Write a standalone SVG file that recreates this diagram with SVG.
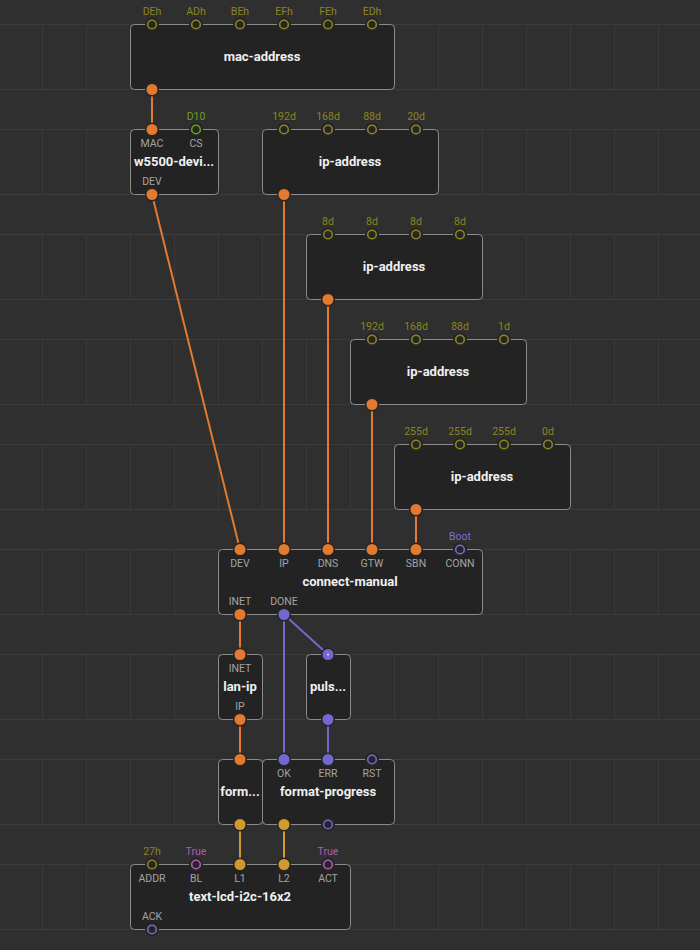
<svg xmlns="http://www.w3.org/2000/svg" width="700" height="950" viewBox="0 0 700 950">
<style>
.bg{fill:#2f2f2f}
.gh{stroke:#3c3c3c;stroke-width:1}
.gv{stroke:#3a3a3a;stroke-width:1}
.node{fill:#1e1e1e;fill-opacity:0.72;stroke:#8c8c8c;stroke-width:1}
.halo{fill:#262626}
.title{font-family:Roboto,"Liberation Sans",sans-serif;font-size:13px;font-weight:bold;fill:#f0f0f0;text-anchor:middle}
.lbl{font-family:Roboto,"Liberation Sans",sans-serif;font-size:10.5px;fill:#a3a3a3;text-anchor:middle}
.val{font-family:Roboto,"Liberation Sans",sans-serif;font-size:10.5px;text-anchor:middle}
.vo{fill:#8c8420}.vg{fill:#6e9e1c}.vp{fill:#7a70d4}.vk{fill:#b25ab2}
.po{fill:#e27a30}
.pu{fill:#7268cf}
.pg{fill:#d09b2e}
.ho{fill:none;stroke:#8c8420;stroke-width:1.6}
.hg{fill:none;stroke:#6e9e1c;stroke-width:1.6}
.hp{fill:none;stroke:#7268cf;stroke-width:1.6}
.hk{fill:none;stroke:#b25ab2;stroke-width:1.6}
.lo{stroke:#e27a30;stroke-width:2;fill:none}
.lu{stroke:#7268cf;stroke-width:2;fill:none}
.lg{stroke:#d09b2e;stroke-width:2;fill:none}
</style>
<rect class="bg" x="0" y="0" width="700" height="950"/>
<g id="grid">
<g class="gh">
<line x1="0" y1="24.5" x2="700" y2="24.5"/><line x1="0" y1="89.5" x2="700" y2="89.5"/>
<line x1="0" y1="129.5" x2="700" y2="129.5"/><line x1="0" y1="194.5" x2="700" y2="194.5"/>
<line x1="0" y1="234.5" x2="700" y2="234.5"/><line x1="0" y1="299.5" x2="700" y2="299.5"/>
<line x1="0" y1="339.5" x2="700" y2="339.5"/><line x1="0" y1="404.5" x2="700" y2="404.5"/>
<line x1="0" y1="444.5" x2="700" y2="444.5"/><line x1="0" y1="509.5" x2="700" y2="509.5"/>
<line x1="0" y1="549.5" x2="700" y2="549.5"/><line x1="0" y1="614.5" x2="700" y2="614.5"/>
<line x1="0" y1="654.5" x2="700" y2="654.5"/><line x1="0" y1="719.5" x2="700" y2="719.5"/>
<line x1="0" y1="759.5" x2="700" y2="759.5"/><line x1="0" y1="824.5" x2="700" y2="824.5"/>
<line x1="0" y1="864.5" x2="700" y2="864.5"/><line x1="0" y1="929.5" x2="700" y2="929.5"/>
</g>
<path class="gv" d="M42.5 24.5V89.5M86.5 24.5V89.5M130.5 24.5V89.5M174.5 24.5V89.5M218.5 24.5V89.5M262.5 24.5V89.5M306.5 24.5V89.5M350.5 24.5V89.5M394.5 24.5V89.5M438.5 24.5V89.5M482.5 24.5V89.5M526.5 24.5V89.5M570.5 24.5V89.5M614.5 24.5V89.5M658.5 24.5V89.5
M42.5 129.5V194.5M86.5 129.5V194.5M130.5 129.5V194.5M174.5 129.5V194.5M218.5 129.5V194.5M262.5 129.5V194.5M306.5 129.5V194.5M350.5 129.5V194.5M394.5 129.5V194.5M438.5 129.5V194.5M482.5 129.5V194.5M526.5 129.5V194.5M570.5 129.5V194.5M614.5 129.5V194.5M658.5 129.5V194.5
M42.5 234.5V299.5M86.5 234.5V299.5M130.5 234.5V299.5M174.5 234.5V299.5M218.5 234.5V299.5M262.5 234.5V299.5M306.5 234.5V299.5M350.5 234.5V299.5M394.5 234.5V299.5M438.5 234.5V299.5M482.5 234.5V299.5M526.5 234.5V299.5M570.5 234.5V299.5M614.5 234.5V299.5M658.5 234.5V299.5
M42.5 339.5V404.5M86.5 339.5V404.5M130.5 339.5V404.5M174.5 339.5V404.5M218.5 339.5V404.5M262.5 339.5V404.5M306.5 339.5V404.5M350.5 339.5V404.5M394.5 339.5V404.5M438.5 339.5V404.5M482.5 339.5V404.5M526.5 339.5V404.5M570.5 339.5V404.5M614.5 339.5V404.5M658.5 339.5V404.5
M42.5 444.5V509.5M86.5 444.5V509.5M130.5 444.5V509.5M174.5 444.5V509.5M218.5 444.5V509.5M262.5 444.5V509.5M306.5 444.5V509.5M350.5 444.5V509.5M394.5 444.5V509.5M438.5 444.5V509.5M482.5 444.5V509.5M526.5 444.5V509.5M570.5 444.5V509.5M614.5 444.5V509.5M658.5 444.5V509.5
M42.5 549.5V614.5M86.5 549.5V614.5M130.5 549.5V614.5M174.5 549.5V614.5M218.5 549.5V614.5M262.5 549.5V614.5M306.5 549.5V614.5M350.5 549.5V614.5M394.5 549.5V614.5M438.5 549.5V614.5M482.5 549.5V614.5M526.5 549.5V614.5M570.5 549.5V614.5M614.5 549.5V614.5M658.5 549.5V614.5
M42.5 654.5V719.5M86.5 654.5V719.5M130.5 654.5V719.5M174.5 654.5V719.5M218.5 654.5V719.5M262.5 654.5V719.5M306.5 654.5V719.5M350.5 654.5V719.5M394.5 654.5V719.5M438.5 654.5V719.5M482.5 654.5V719.5M526.5 654.5V719.5M570.5 654.5V719.5M614.5 654.5V719.5M658.5 654.5V719.5
M42.5 759.5V824.5M86.5 759.5V824.5M130.5 759.5V824.5M174.5 759.5V824.5M218.5 759.5V824.5M262.5 759.5V824.5M306.5 759.5V824.5M350.5 759.5V824.5M394.5 759.5V824.5M438.5 759.5V824.5M482.5 759.5V824.5M526.5 759.5V824.5M570.5 759.5V824.5M614.5 759.5V824.5M658.5 759.5V824.5
M42.5 864.5V929.5M86.5 864.5V929.5M130.5 864.5V929.5M174.5 864.5V929.5M218.5 864.5V929.5M262.5 864.5V929.5M306.5 864.5V929.5M350.5 864.5V929.5M394.5 864.5V929.5M438.5 864.5V929.5M482.5 864.5V929.5M526.5 864.5V929.5M570.5 864.5V929.5M614.5 864.5V929.5M658.5 864.5V929.5"/>
</g>

<g id="links">
<line class="lo" x1="152" y1="89.5" x2="152" y2="129.5"/>
<line class="lo" x1="152" y1="194.5" x2="240" y2="549.5"/>
<line class="lo" x1="284" y1="194.5" x2="284" y2="549.5"/>
<line class="lo" x1="328" y1="299.5" x2="328" y2="549.5"/>
<line class="lo" x1="372" y1="404.5" x2="372" y2="549.5"/>
<line class="lo" x1="416" y1="509.5" x2="416" y2="549.5"/>
<line class="lo" x1="240" y1="614.5" x2="240" y2="654.5"/>
<line class="lu" x1="284" y1="614.5" x2="328" y2="654.5"/>
<line class="lu" x1="284" y1="614.5" x2="284" y2="759.5"/>
<line class="lo" x1="240" y1="719.5" x2="240" y2="759.5"/>
<line class="lu" x1="328" y1="719.5" x2="328" y2="759.5"/>
<line class="lg" x1="240" y1="824.5" x2="240" y2="864.5"/>
<line class="lg" x1="284" y1="824.5" x2="284" y2="864.5"/>
</g>

<g id="mac-address">
<rect class="node" x="130.5" y="24.5" width="264" height="65" rx="4"/>
<text class="title" x="262" y="61">mac-address</text>
<g class="halo"><circle cx="152" cy="24.5" r="7"/><circle cx="196" cy="24.5" r="7"/><circle cx="240" cy="24.5" r="7"/><circle cx="284" cy="24.5" r="7"/><circle cx="328" cy="24.5" r="7"/><circle cx="372" cy="24.5" r="7"/><circle cx="152" cy="89.5" r="7"/></g>
<g class="ho"><circle cx="152" cy="24.5" r="4.3"/><circle cx="196" cy="24.5" r="4.3"/><circle cx="240" cy="24.5" r="4.3"/><circle cx="284" cy="24.5" r="4.3"/><circle cx="328" cy="24.5" r="4.3"/><circle cx="372" cy="24.5" r="4.3"/></g>
<circle class="po" cx="152" cy="89.5" r="5.5"/>
<g class="val vo"><text x="152" y="15">DEh</text><text x="196" y="15">ADh</text><text x="240" y="15">BEh</text><text x="284" y="15">EFh</text><text x="328" y="15">FEh</text><text x="372" y="15">EDh</text></g>
</g>

<g id="w5500-device">
<rect class="node" x="130.5" y="129.5" width="88" height="65" rx="4"/>
<text class="title" x="174" y="166">w5500-devi...</text>
<text class="lbl" x="152" y="147">MAC</text><text class="lbl" x="196" y="147">CS</text><text class="lbl" x="152" y="185">DEV</text>
<g class="halo"><circle cx="152" cy="129.5" r="7"/><circle cx="196" cy="129.5" r="7"/><circle cx="152" cy="194.5" r="7"/></g>
<circle class="po" cx="152" cy="129.5" r="5.5"/>
<circle class="hg" cx="196" cy="129.5" r="4.3"/>
<circle class="po" cx="152" cy="194.5" r="5.5"/>
<text class="val vg" x="196" y="120">D10</text>
</g>

<g id="ip-address-1">
<rect class="node" x="262.5" y="129.5" width="176" height="65" rx="4"/>
<text class="title" x="350" y="166">ip-address</text>
<g class="halo"><circle cx="284" cy="129.5" r="7"/><circle cx="328" cy="129.5" r="7"/><circle cx="372" cy="129.5" r="7"/><circle cx="416" cy="129.5" r="7"/><circle cx="284" cy="194.5" r="7"/></g>
<g class="ho"><circle cx="284" cy="129.5" r="4.3"/><circle cx="328" cy="129.5" r="4.3"/><circle cx="372" cy="129.5" r="4.3"/><circle cx="416" cy="129.5" r="4.3"/></g>
<circle class="po" cx="284" cy="194.5" r="5.5"/>
<g class="val vo"><text x="284" y="120">192d</text><text x="328" y="120">168d</text><text x="372" y="120">88d</text><text x="416" y="120">20d</text></g>
</g>

<g id="ip-address-2">
<rect class="node" x="306.5" y="234.5" width="176" height="65" rx="4"/>
<text class="title" x="394" y="271">ip-address</text>
<g class="halo"><circle cx="328" cy="234.5" r="7"/><circle cx="372" cy="234.5" r="7"/><circle cx="416" cy="234.5" r="7"/><circle cx="460" cy="234.5" r="7"/><circle cx="328" cy="299.5" r="7"/></g>
<g class="ho"><circle cx="328" cy="234.5" r="4.3"/><circle cx="372" cy="234.5" r="4.3"/><circle cx="416" cy="234.5" r="4.3"/><circle cx="460" cy="234.5" r="4.3"/></g>
<circle class="po" cx="328" cy="299.5" r="5.5"/>
<g class="val vo"><text x="328" y="225">8d</text><text x="372" y="225">8d</text><text x="416" y="225">8d</text><text x="460" y="225">8d</text></g>
</g>

<g id="ip-address-3">
<rect class="node" x="350.5" y="339.5" width="176" height="65" rx="4"/>
<text class="title" x="438" y="376">ip-address</text>
<g class="halo"><circle cx="372" cy="339.5" r="7"/><circle cx="416" cy="339.5" r="7"/><circle cx="460" cy="339.5" r="7"/><circle cx="504" cy="339.5" r="7"/><circle cx="372" cy="404.5" r="7"/></g>
<g class="ho"><circle cx="372" cy="339.5" r="4.3"/><circle cx="416" cy="339.5" r="4.3"/><circle cx="460" cy="339.5" r="4.3"/><circle cx="504" cy="339.5" r="4.3"/></g>
<circle class="po" cx="372" cy="404.5" r="5.5"/>
<g class="val vo"><text x="372" y="330">192d</text><text x="416" y="330">168d</text><text x="460" y="330">88d</text><text x="504" y="330">1d</text></g>
</g>

<g id="ip-address-4">
<rect class="node" x="394.5" y="444.5" width="176" height="65" rx="4"/>
<text class="title" x="482" y="481">ip-address</text>
<g class="halo"><circle cx="416" cy="444.5" r="7"/><circle cx="460" cy="444.5" r="7"/><circle cx="504" cy="444.5" r="7"/><circle cx="548" cy="444.5" r="7"/><circle cx="416" cy="509.5" r="7"/></g>
<g class="ho"><circle cx="416" cy="444.5" r="4.3"/><circle cx="460" cy="444.5" r="4.3"/><circle cx="504" cy="444.5" r="4.3"/><circle cx="548" cy="444.5" r="4.3"/></g>
<circle class="po" cx="416" cy="509.5" r="5.5"/>
<g class="val vo"><text x="416" y="435">255d</text><text x="460" y="435">255d</text><text x="504" y="435">255d</text><text x="548" y="435">0d</text></g>
</g>

<g id="connect-manual">
<rect class="node" x="218.5" y="549.5" width="264" height="65" rx="4"/>
<text class="title" x="350" y="586">connect-manual</text>
<text class="lbl" x="240" y="567">DEV</text><text class="lbl" x="284" y="567">IP</text><text class="lbl" x="328" y="567">DNS</text><text class="lbl" x="372" y="567">GTW</text><text class="lbl" x="416" y="567">SBN</text><text class="lbl" x="460" y="567">CONN</text>
<text class="lbl" x="240" y="605">INET</text><text class="lbl" x="284" y="605">DONE</text>
<g class="halo"><circle cx="240" cy="549.5" r="7"/><circle cx="284" cy="549.5" r="7"/><circle cx="328" cy="549.5" r="7"/><circle cx="372" cy="549.5" r="7"/><circle cx="416" cy="549.5" r="7"/><circle cx="460" cy="549.5" r="7"/><circle cx="240" cy="614.5" r="7"/><circle cx="284" cy="614.5" r="7"/></g>
<g class="po"><circle cx="240" cy="549.5" r="5.5"/><circle cx="284" cy="549.5" r="5.5"/><circle cx="328" cy="549.5" r="5.5"/><circle cx="372" cy="549.5" r="5.5"/><circle cx="416" cy="549.5" r="5.5"/><circle cx="240" cy="614.5" r="5.5"/></g>
<circle class="hp" cx="460" cy="549.5" r="4.3"/>
<circle class="pu" cx="284" cy="614.5" r="5.5"/>
<text class="val vp" x="460" y="540">Boot</text>
</g>

<g id="lan-ip">
<rect class="node" x="218.5" y="654.5" width="44" height="65" rx="4"/>
<text class="title" x="240" y="691">lan-ip</text>
<text class="lbl" x="240" y="672">INET</text><text class="lbl" x="240" y="710">IP</text>
<g class="halo"><circle cx="240" cy="654.5" r="7"/><circle cx="240" cy="719.5" r="7"/></g>
<g class="po"><circle cx="240" cy="654.5" r="5.5"/><circle cx="240" cy="719.5" r="5.5"/></g>
</g>

<g id="pulse">
<rect class="node" x="306.5" y="654.5" width="44" height="65" rx="4"/>
<text class="title" x="328" y="691">puls...</text>
<g class="halo"><circle cx="328" cy="654.5" r="7"/><circle cx="328" cy="719.5" r="7"/></g>
<g class="pu"><circle cx="328" cy="654.5" r="5.5"/><circle cx="328" cy="719.5" r="5.5"/></g>
<circle cx="328" cy="654.5" r="1.1" fill="#d8d8f0"/>
</g>

<g id="format">
<rect class="node" x="218.5" y="759.5" width="44" height="65" rx="4"/>
<text class="title" x="240" y="796">form...</text>
<g class="halo"><circle cx="240" cy="759.5" r="7"/><circle cx="240" cy="824.5" r="7"/></g>
<circle class="po" cx="240" cy="759.5" r="5.5"/>
<circle class="pg" cx="240" cy="824.5" r="5.5"/>
</g>

<g id="format-progress">
<rect class="node" x="262.5" y="759.5" width="132" height="65" rx="4"/>
<text class="title" x="328" y="796">format-progress</text>
<text class="lbl" x="284" y="777">OK</text><text class="lbl" x="328" y="777">ERR</text><text class="lbl" x="372" y="777">RST</text>
<g class="halo"><circle cx="284" cy="759.5" r="7"/><circle cx="328" cy="759.5" r="7"/><circle cx="372" cy="759.5" r="7"/><circle cx="284" cy="824.5" r="7"/><circle cx="328" cy="824.5" r="7"/></g>
<g class="pu"><circle cx="284" cy="759.5" r="5.5"/><circle cx="328" cy="759.5" r="5.5"/></g>
<circle class="hp" cx="372" cy="759.5" r="4.3"/>
<circle class="pg" cx="284" cy="824.5" r="5.5"/>
<circle class="hp" cx="328" cy="824.5" r="4.3"/>
</g>

<g id="text-lcd-i2c-16x2">
<rect class="node" x="130.5" y="864.5" width="220" height="65" rx="4"/>
<text class="title" x="240" y="901">text-lcd-i2c-16x2</text>
<text class="lbl" x="152" y="882">ADDR</text><text class="lbl" x="196" y="882">BL</text><text class="lbl" x="240" y="882">L1</text><text class="lbl" x="284" y="882">L2</text><text class="lbl" x="328" y="882">ACT</text>
<text class="lbl" x="152" y="920">ACK</text>
<g class="halo"><circle cx="152" cy="864.5" r="7"/><circle cx="196" cy="864.5" r="7"/><circle cx="240" cy="864.5" r="7"/><circle cx="284" cy="864.5" r="7"/><circle cx="328" cy="864.5" r="7"/><circle cx="152" cy="929.5" r="7"/></g>
<circle class="ho" cx="152" cy="864.5" r="4.3"/>
<circle class="hk" cx="196" cy="864.5" r="4.3"/>
<g class="pg"><circle cx="240" cy="864.5" r="5.5"/><circle cx="284" cy="864.5" r="5.5"/></g>
<circle class="hk" cx="328" cy="864.5" r="4.3"/>
<circle class="hp" cx="152" cy="929.5" r="4.3"/>
<text class="val vo" x="152" y="855">27h</text><text class="val vk" x="196" y="855">True</text><text class="val vk" x="328" y="855">True</text>
</g>
</svg>
